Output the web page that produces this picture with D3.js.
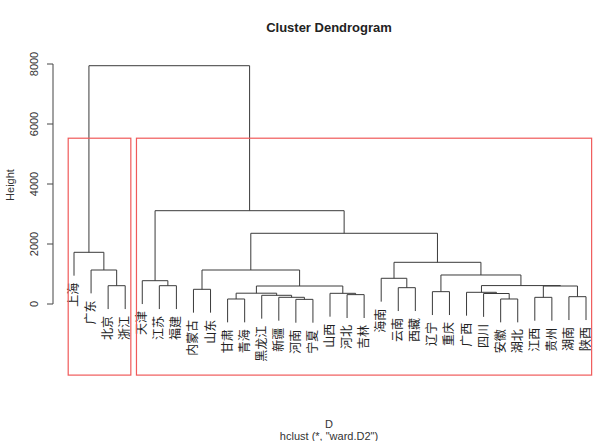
<!DOCTYPE html>
<html><head><meta charset="utf-8">
<script src="https://cdn.jsdelivr.net/npm/d3@7"></script>
<style>body{margin:0;background:#fff}</style>
</head><body>
<svg id="chart" width="615" height="441"></svg>
<script>
// leaf labels in dendrogram order (positions 1..31)
const leafLabels = ["上海","广东","北京","浙江","天津","江苏","福建","内蒙古","山东","甘肃","青海","黑龙江","新疆","河南","宁夏","山西","河北","吉林","海南","云南","西藏","辽宁","重庆","广西","四川","安徽","湖北","江西","贵州","湖南","陕西"];
// merges, R-style: negative = leaf position, positive = earlier merge step
const mergeLeft  = [-14,-10,-26,-13,-28,-30,-12,-17,-25, 2,-16,-24,-22,-8,-20,10, 5,-6,-3,12,-5,-19,13,14,-2,22,-1,24,21,27];
const mergeRight = [-15,-11,-27,  1,-29,-31,  4,-18,  3, 7,  8,  9,-23,-9,-21,11, 6,-7,-4,17,18, 15,20,16,19,23,25,26,28,29];
const mergeHeight= [155,167,167,223,222,244,290,312,350,360,356,390,411,490,544,600,600,610,610,614,777,857,967,1133,1133,1390,1723,2357,3110,7943];
const yTicks = [0,2000,4000,6000,8000];
const rectGroups = [[1,4],[5,31]]; // k = 2 clusters (leaf position ranges)

const svg = d3.select("#chart");
const x = d3.scaleLinear().domain([1,31]).range([74,586]);
const y = d3.scaleLinear().domain([0,8000]).range([304,64]);
const yBottom = -2370;
const hang = 0.1*(d3.max(mergeHeight)-d3.min(mergeHeight));
const lineColor = "#3a3a3a";
const cjk = "'Noto Sans CJK SC','Liberation Sans',sans-serif";
const sans = "'Liberation Sans',Arial,sans-serif";

// compute node positions
const nodeX = [], nodeH = [];
function pos(id){ return id<0 ? {x:-id, h:null} : {x:nodeX[id-1], h:mergeHeight[id-1]}; }
const g = svg.append("g").attr("fill","none").attr("stroke",lineColor).attr("stroke-width",1);
const labelG = svg.append("g");
mergeHeight.forEach((h,i)=>{
  const a = pos(mergeLeft[i]), b = pos(mergeRight[i]);
  nodeX[i] = (a.x+b.x)/2; nodeH[i]=h;
  const yh = y(h);
  const ends = [a,b].map((c,j)=>{
    const id = j===0?mergeLeft[i]:mergeRight[i];
    const yEnd = c.h===null ? y(h-hang) : y(c.h);
    if(c.h===null){
      labelG.append("text")
        .attr("transform",`translate(${x(c.x)+4},${yEnd+7}) rotate(-90)`)
        .attr("text-anchor","end")
        .attr("font-family",cjk).attr("font-size",12).attr("fill","#222")
        .text(leafLabels[-id-1]);
    }
    return yEnd;
  });
  g.append("path").attr("d",
    `M${x(a.x)},${ends[0]}V${yh}H${x(b.x)}V${ends[1]}`);
});

// y axis
const axis = svg.append("g");
axis.append("line").attr("x1",53).attr("x2",53).attr("y1",y(0)).attr("y2",y(8000)).attr("stroke","#444");
yTicks.forEach(t=>{
  axis.append("line").attr("x1",47).attr("x2",53).attr("y1",y(t)).attr("y2",y(t)).attr("stroke","#444");
  axis.append("text").attr("transform",`translate(38,${y(t)}) rotate(-90)`)
    .attr("text-anchor","middle").attr("font-family",sans).attr("font-size",11).attr("fill","#333").text(t);
});
svg.append("text").attr("transform","translate(14,185) rotate(-90)").attr("text-anchor","middle")
  .attr("font-family",sans).attr("font-size",11).attr("fill","#333").text("Height");

// cluster rectangles
const hs = mergeHeight.slice().sort((p,q)=>q-p);
const rectTop = (hs[0]+hs[1])/2;
rectGroups.forEach(([s,e])=>{
  svg.append("rect").attr("x",x(s-0.34)).attr("y",y(rectTop))
    .attr("width",x(e+0.33)-x(s-0.34)).attr("height",y(yBottom)-y(rectTop))
    .attr("fill","none").attr("stroke","#f05a5a").attr("stroke-width",1.2);
});

// titles
svg.append("text").attr("x",329).attr("y",32).attr("text-anchor","middle")
  .attr("font-family",sans).attr("font-weight","bold").attr("font-size",13).attr("fill","#222").text("Cluster Dendrogram");
svg.append("text").attr("x",329).attr("y",428).attr("text-anchor","middle")
  .attr("font-family",sans).attr("font-size",11).attr("fill","#333").text("D");
svg.append("text").attr("x",329).attr("y",440).attr("text-anchor","middle")
  .attr("font-family",sans).attr("font-size",11).attr("fill","#333").text('hclust (*, "ward.D2")');
</script>
</body></html>
